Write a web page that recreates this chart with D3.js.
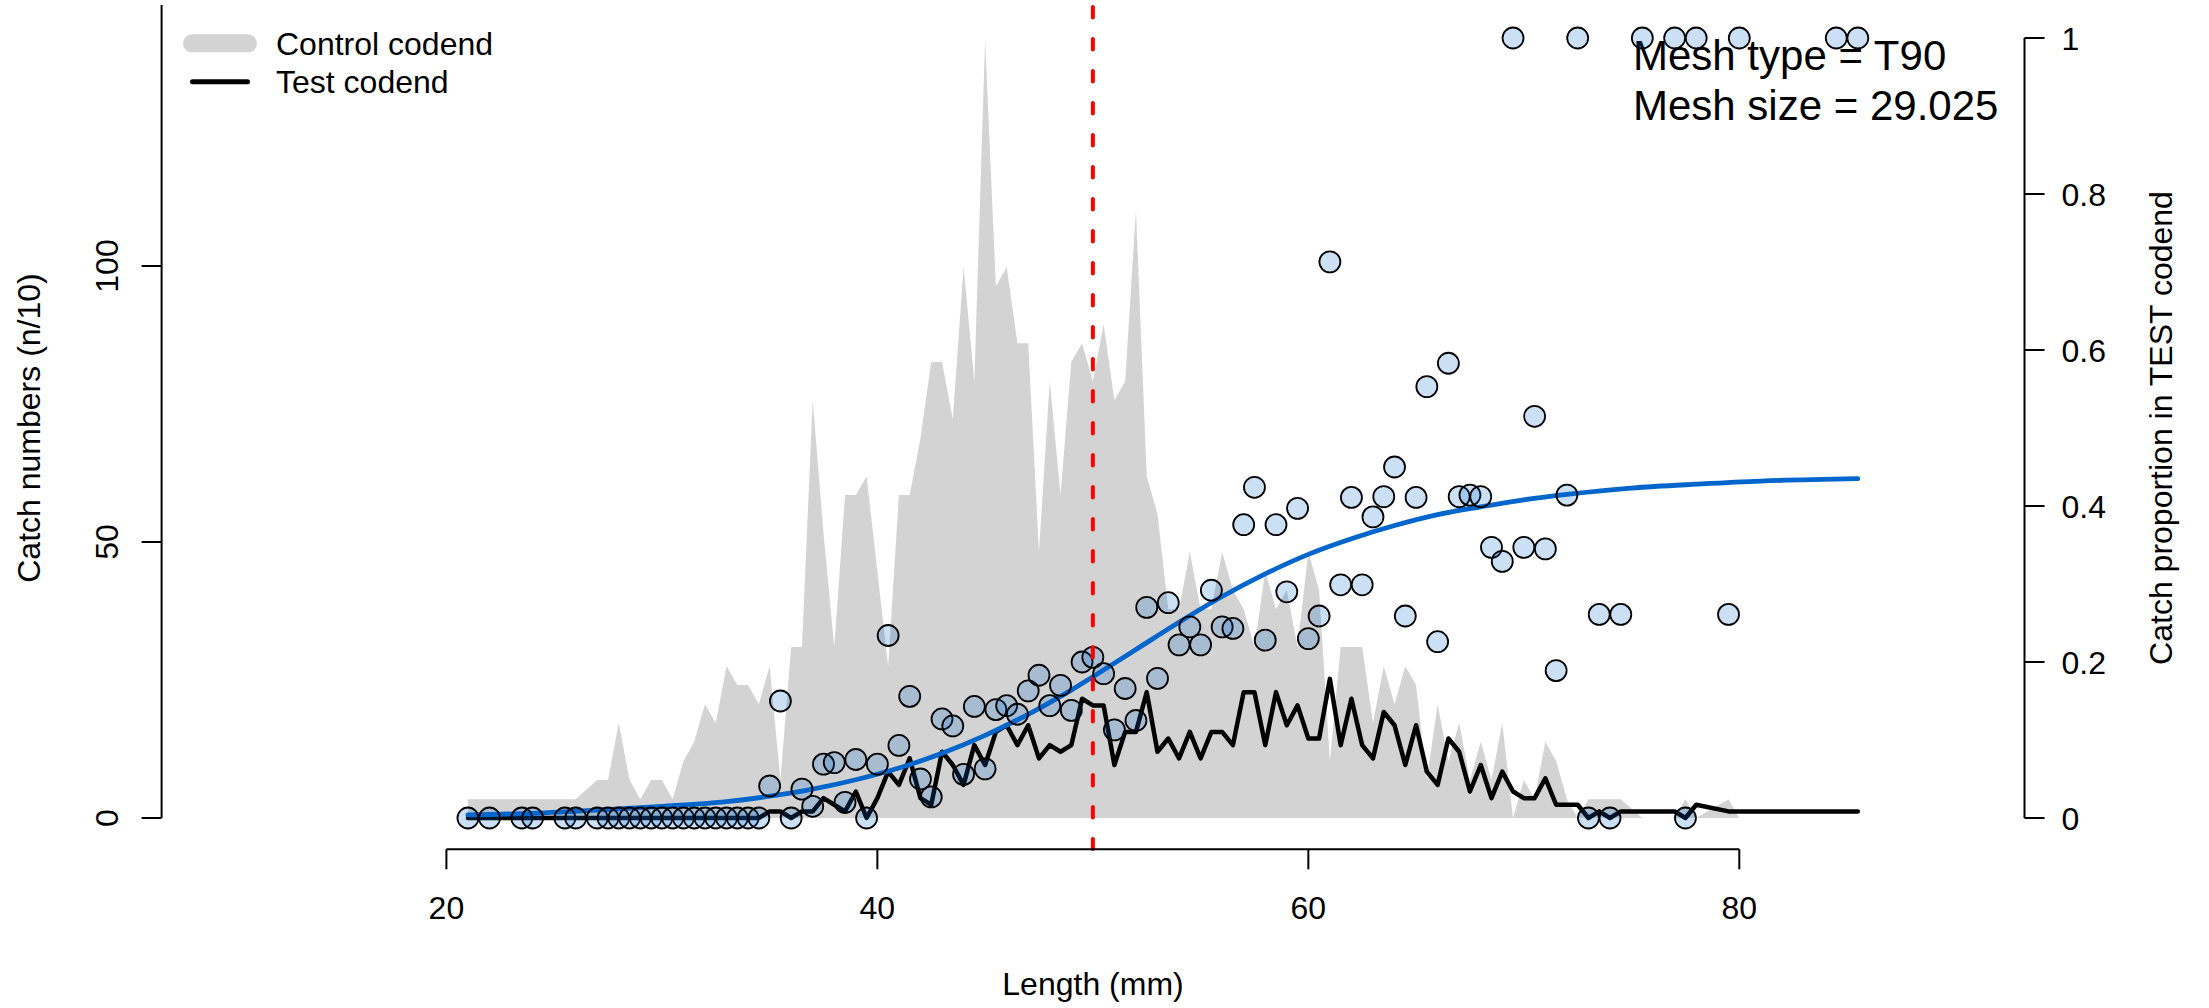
<!DOCTYPE html>
<html>
<head>
<meta charset="utf-8">
<script src="https://cdn.jsdelivr.net/npm/d3@7"></script>
<style>
  html, body { margin: 0; padding: 0; background: #ffffff; }
  svg { display: block; }
  text { font-family: "Liberation Sans", Arial, Helvetica, sans-serif; fill: #000; }
</style>
</head>
<body>
<svg id="chart" width="2209" height="1008"></svg>
<script>
// ---------------- data ----------------
const lengths = [21,22,23.5,24,25.5,26,27,27.5,28,28.5,29,29.5,30,30.5,31,31.5,32,32.5,33,33.5,34,34.5,
  35,35.5,36,36.5,37,37.5,38,38.5,39,39.5,40,40.5,41,41.5,42,42.5,43,43.5,44,44.5,
  45,45.5,46,46.5,47,47.5,48,48.5,49,49.5,50,50.5,51,51.5,52,52.5,53,53.5,54,54.5,
  55,55.5,56,56.5,57,57.5,58,58.5,59,59.5,60,60.5,61,61.5,62,62.5,63,63.5,64,64.5,
  65,65.5,66,66.5,67,67.5,68,68.5,69,69.5,70,70.5,71,71.5,72,72.5,73,73.5,74,74.5,
  75.5,77,77.5,78,79.5,80,84.5,85.5];

const controlCatch = [3.4,3.4,3.4,3.4,3.4,3.4,6.9,6.9,17.2,6.9,3.4,6.9,6.9,3.4,10.3,13.8,20.6,17.2,27.5,24.1,24.1,20.6,
  27.5,6.9,31.0,31.0,75.7,51.6,31.0,58.5,58.5,61.9,44.7,27.5,58.5,58.5,68.8,82.6,82.6,72.2,99.8,79.1,
  141.0,96.3,99.8,86.0,86.0,48.2,79.1,58.5,82.6,86.0,79.1,89.4,75.7,79.1,110.1,61.9,55.0,37.8,37.8,48.2,
  37.8,37.8,48.2,41.3,37.8,31.0,44.7,37.8,41.3,31.0,48.2,41.3,10.3,31.0,31.0,31.0,17.2,27.5,20.6,27.5,
  24.1,6.9,20.6,10.3,17.2,6.9,13.8,6.9,17.2,0,6.9,3.4,13.8,10.3,3.4,0,3.4,3.4,3.4,3.4,
  0,0,3.4,0,3.4,0,0,0];

const testCatch = [0,0,0,0,0,0,0,0,0,0,0,0,0,0,0,0,0,0,0,0,0,0,
  1.2,1.2,0,1.2,1.2,3.6,2.4,1.2,4.8,0,3.6,8.4,6.0,10.8,3.6,2.4,12.0,9.6,6.0,13.2,
  9.6,15.6,16.8,13.2,16.8,10.8,13.2,12.0,13.2,21.6,20.4,20.4,9.6,15.6,15.6,22.8,12.0,14.4,10.8,15.6,
  10.8,15.6,15.6,13.2,22.8,22.8,13.2,22.8,16.8,20.4,14.4,14.4,25.2,13.2,21.6,13.2,10.8,19.2,16.8,9.6,
  16.8,8.4,6.0,14.4,12.0,4.8,9.6,3.6,8.4,4.8,3.6,3.6,7.2,2.4,2.4,2.4,0,1.2,0,1.2,
  1.2,1.2,0,2.4,1.2,1.2,1.2,1.2];

const propTest = [0,0,0,0,0,0,0,0,0,0,0,0,0,0,0,0,0,0,0,0,0,0,
  0.041,0.15,0,0.037,0.015,0.069,0.071,0.02,0.075,0,0.069,0.234,0.093,0.156,0.05,0.027,0.127,0.118,0.056,0.143,
  0.063,0.139,0.144,0.133,0.163,0.183,0.144,0.17,0.138,0.2,0.206,0.185,0.113,0.166,0.125,0.27,0.179,0.276,0.222,0.245,
  0.222,0.292,0.245,0.243,0.376,0.424,0.228,0.376,0.29,0.397,0.23,0.259,0.713,0.299,0.411,0.299,0.386,0.412,0.45,0.259,
  0.411,0.553,0.226,0.583,0.412,0.414,0.412,0.347,0.329,1,0.347,0.515,0.345,0.189,0.414,1,0,0.261,0,0.261,
  1,1,0,1,0.261,1,1,1];

const curveLength = [21,24,27,30,33,35,37,39,41,43,45,47,49,50,52,54,56,58,60,62,64,66,68,70,72,75,78,81,85.5];
const curveProp   = [0.004,0.006,0.010,0.015,0.021,0.028,0.037,0.049,0.064,0.083,0.106,0.133,0.164,0.181,0.216,0.251,0.284,0.313,0.338,0.358,0.375,0.389,0.399,0.408,0.415,0.423,0.428,0.432,0.435];

const L50 = 50;
const xTicks = [20, 40, 60, 80];
const leftTicks = [0, 50, 100];
const rightTicks = [0, 0.2, 0.4, 0.6, 0.8, 1];
const rightTickLabels = ["0", "0.2", "0.4", "0.6", "0.8", "1"];
const legendLabels = ["Control codend", "Test codend"];
const annotation = ["Mesh type = T90", "Mesh size = 29.025"];

// ---------------- scales ----------------
const svg = d3.select("#chart");
const x = d3.scaleLinear().domain([20, 80]).range([446.4, 1739.3]);
const yL = d3.scaleLinear().domain([0, 100]).range([818, 266]);
const yR = d3.scaleLinear().domain([0, 1]).range([818, 38]);

const FONT = 32;

svg.append("rect").attr("width", 2209).attr("height", 1008).attr("fill", "#ffffff");

const rows = lengths.map((L, i) => ({L, c: controlCatch[i], t: testCatch[i], p: propTest[i]}));

// control codend area
svg.append("path")
  .datum(rows)
  .attr("fill", "#d3d3d3")
  .attr("d", d3.area().x(d => x(d.L)).y0(yL(0)).y1(d => yL(d.c)));

// test codend line
svg.append("path")
  .datum(rows)
  .attr("fill", "none")
  .attr("stroke", "#000")
  .attr("stroke-width", 4.5)
  .attr("stroke-linejoin", "round")
  .attr("stroke-linecap", "round")
  .attr("d", d3.line().x(d => x(d.L)).y(d => yL(d.t)));

// fitted curve
svg.append("path")
  .datum(curveLength.map((L, i) => ({L, p: curveProp[i]})))
  .attr("fill", "none")
  .attr("stroke", "#0066cc")
  .attr("stroke-width", 4.8)
  .attr("stroke-linecap", "round")
  .attr("d", d3.line().curve(d3.curveCatmullRom.alpha(0.5)).x(d => x(d.L)).y(d => yR(d.p)));

// annotation
svg.selectAll("text.annot").data(annotation).enter().append("text")
  .attr("class", "annot")
  .attr("x", 1633)
  .attr("y", (d, i) => 70 + i * 50)
  .attr("font-size", 42)
  .text(d => d);

// proportion points
svg.selectAll("circle.pt").data(rows).enter().append("circle")
  .attr("class", "pt")
  .attr("cx", d => x(d.L))
  .attr("cy", d => yR(d.p))
  .attr("r", 10.5)
  .attr("fill", "rgba(0,102,204,0.2)")
  .attr("stroke", "#000")
  .attr("stroke-width", 1.8);

// L50 red dashed line
svg.append("line")
  .attr("x1", x(L50)).attr("x2", x(L50))
  .attr("y1", 7).attr("y2", 849)
  .attr("stroke", "#ff0000")
  .attr("stroke-width", 4)
  .attr("stroke-linecap", "round")
  .attr("stroke-dasharray", "10.5,21.5");

// ---------------- axes ----------------
// bottom axis
const gx = svg.append("g").attr("transform", "translate(0,849.3)");
gx.append("line").attr("x1", x(20)).attr("x2", x(80)).attr("stroke", "#000").attr("stroke-width", 2);
gx.selectAll("line.t").data(xTicks).enter().append("line")
  .attr("x1", d => x(d)).attr("x2", d => x(d)).attr("y1", 0).attr("y2", 20)
  .attr("stroke", "#000").attr("stroke-width", 2);
gx.selectAll("text").data(xTicks).enter().append("text")
  .attr("x", d => x(d)).attr("y", 70).attr("text-anchor", "middle")
  .attr("font-size", FONT).text(d => d);
svg.append("text").attr("x", 1093).attr("y", 995).attr("text-anchor", "middle")
  .attr("font-size", FONT).text("Length (mm)");

// left axis
const gl = svg.append("g").attr("transform", "translate(161.6,0)");
gl.append("line").attr("y1", yL(0)).attr("y2", 5).attr("stroke", "#000").attr("stroke-width", 2);
gl.selectAll("line.t").data(leftTicks).enter().append("line")
  .attr("x1", -20).attr("x2", 0).attr("y1", d => yL(d)).attr("y2", d => yL(d))
  .attr("stroke", "#000").attr("stroke-width", 2);
gl.selectAll("text").data(leftTicks).enter().append("text")
  .attr("transform", d => `translate(-44,${yL(d)}) rotate(-90)`)
  .attr("text-anchor", "middle").attr("font-size", FONT).text(d => d);
svg.append("text")
  .attr("transform", "translate(40,428) rotate(-90)")
  .attr("text-anchor", "middle").attr("font-size", FONT)
  .text("Catch numbers (n/10)");

// right axis
const gr = svg.append("g").attr("transform", "translate(2024.5,0)");
gr.append("line").attr("y1", yR(0)).attr("y2", yR(1)).attr("stroke", "#000").attr("stroke-width", 2);
gr.selectAll("line.t").data(rightTicks).enter().append("line")
  .attr("x1", 0).attr("x2", 20).attr("y1", d => yR(d)).attr("y2", d => yR(d))
  .attr("stroke", "#000").attr("stroke-width", 2);
gr.selectAll("text").data(rightTicks).enter().append("text")
  .attr("x", 37).attr("y", d => yR(d)).attr("dy", "0.36em")
  .attr("font-size", FONT).text((d, i) => rightTickLabels[i]);
svg.append("text")
  .attr("transform", "translate(2172,428) rotate(-90)")
  .attr("text-anchor", "middle").attr("font-size", FONT)
  .text("Catch proportion in TEST codend");

// ---------------- legend ----------------
const legend = svg.append("g");
legend.append("line").attr("x1", 192).attr("x2", 248).attr("y1", 43.3).attr("y2", 43.3)
  .attr("stroke", "#d3d3d3").attr("stroke-width", 18).attr("stroke-linecap", "round");
legend.append("line").attr("x1", 192.5).attr("x2", 247.5).attr("y1", 81.7).attr("y2", 81.7)
  .attr("stroke", "#000").attr("stroke-width", 5).attr("stroke-linecap", "round");
legend.selectAll("text").data(legendLabels).enter().append("text")
  .attr("x", 276).attr("y", (d, i) => 55 + i * 37.7)
  .attr("font-size", FONT).text(d => d);
</script>
</body>
</html>
